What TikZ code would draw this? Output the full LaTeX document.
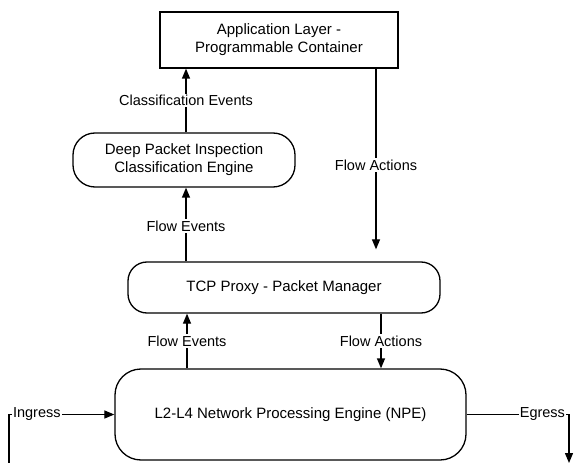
\documentclass[tikz,border=0pt]{standalone}
\usepackage{fontspec}
\setmainfont{Liberation Sans}
\usetikzlibrary{arrows.meta,calc}
\begin{document}
\begin{tikzpicture}[x=1bp,y=-1bp,
  box/.style={draw,line width=1.3bp,inner sep=0pt,align=center,font=\fontsize{15bp}{18bp}\selectfont},
  conn/.style={line width=1.3bp},
  arr/.style={conn,-{Triangle[length=10bp,width=8bp]}},
  lbl/.style={fill=white,inner sep=1.5bp,font=\fontsize{14.5bp}{17bp}\selectfont}]
\useasboundingbox[fill=white] (0,0) rectangle (574,463);
\node[box,minimum width=238bp,minimum height=56bp] (app) at (279,40) {Application Layer -\\Programmable Container};
\node[box,rounded corners=22bp,minimum width=222bp,minimum height=54bp] (dpi) at (184,160) {Deep Packet Inspection\\Classification Engine};
\node[box,rounded corners=19bp,minimum width=312bp,minimum height=51bp] (tcp) at (284,287.5) {TCP Proxy - Packet Manager};
\node[box,rounded corners=26bp,minimum width=351bp,minimum height=91bp] (npe) at (290.5,414.5) {L2-L4 Network Processing Engine (NPE)};
\coordinate (xce) at (186,0);
\coordinate (xfa) at (376,0);
\coordinate (xfe) at (186,0);
\coordinate (xfl) at (187,0);
\coordinate (xfb) at (381,0);
\coordinate (inb) at (9,463);
\coordinate (egb) at (569,463);
% Classification Events
\draw[arr] (dpi.north -| xce) -- node[lbl,pos=0.5] {Classification Events} (app.south -| xce);
% Flow Actions (upper)
\draw[arr,shorten >=12bp] (app.south -| xfa) -- node[lbl,pos=0.5] {Flow Actions} (tcp.north -| xfa);
% Flow Events (upper)
\draw[arr] (tcp.north -| xfe) -- node[lbl,pos=0.48] {Flow Events} (dpi.south -| xfe);
% Flow Events (lower)
\draw[arr] (npe.north -| xfl) -- node[lbl,pos=0.5] {Flow Events} (tcp.south -| xfl);
% Flow Actions (lower)
\draw[arr] (tcp.south -| xfb) -- node[lbl,pos=0.5] {Flow Actions} (npe.north -| xfb);
% Ingress
\draw[arr] (inb) |- node[lbl,pos=0.632,inner sep=1bp] {Ingress} (npe.west);
% Egress
\draw[arr] (npe.east) -| node[lbl,pos=0.37,inner sep=1bp] {Egress} (egb);
\end{tikzpicture}
\end{document}
